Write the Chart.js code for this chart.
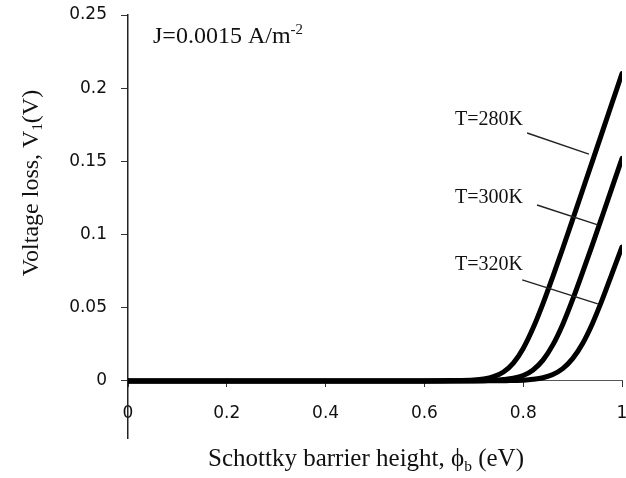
<!DOCTYPE html>
<html>
<head>
<meta charset="utf-8">
<script src="https://cdn.jsdelivr.net/npm/chart.js@4/dist/chart.umd.min.js"></script>
<style>
  body { margin: 0; background: #fff; }
  #chart { display: block; }
</style>
</head>
<body>
<canvas id="chart" width="626" height="478"></canvas>
<script>
// barrier height (eV)
const xValues = [0, 0.1, 0.2, 0.3, 0.4, 0.5, 0.6, 0.65, 0.7, 0.72, 0.74, 0.76, 0.78, 0.8, 0.82, 0.84, 0.86, 0.88, 0.9, 0.92, 0.94, 0.96, 0.98, 1];
// voltage loss (V) for each temperature
const loss280 = [0, 0, 0, 0, 0, 0, 0, 0.0002, 0.0006, 0.0013, 0.0029, 0.0061, 0.0122, 0.0222, 0.0361, 0.0528, 0.0713, 0.0905, 0.1102, 0.1301, 0.1500, 0.1700, 0.1900, 0.2100];
const loss300 = [0, 0, 0, 0, 0, 0, 0, 0, 0.0001, 0.0002, 0.0004, 0.0009, 0.0018, 0.0037, 0.0075, 0.0142, 0.0246, 0.0386, 0.0555, 0.0740, 0.0930, 0.1125, 0.1322, 0.1520];
const loss320 = [0, 0, 0, 0, 0, 0, 0, 0, 0, 0, 0.0001, 0.0001, 0.0003, 0.0005, 0.0011, 0.0022, 0.0044, 0.0084, 0.0152, 0.0254, 0.0391, 0.0555, 0.0735, 0.0915];

const seriesLabels = ['T=280K', 'T=300K', 'T=320K'];
const xTicks = [0, 0.2, 0.4, 0.6, 0.8, 1];
const xTickLabels = ['0', '0.2', '0.4', '0.6', '0.8', '1'];
const yTicks = [0, 0.05, 0.1, 0.15, 0.2, 0.25];
const yTickLabels = ['0', '0.05', '0.1', '0.15', '0.2', '0.25'];

// annotation anchors, in data units
const labelX = [0.662, 0.662, 0.662];
const labelY = [0.1749, 0.1216, 0.0758];
const leaderFromX = [0.808, 0.828, 0.798];
const leaderFromY = [0.1694, 0.1202, 0.0690];
const leaderToX = [0.933, 0.951, 0.951];
const leaderToY = [0.155, 0.1066, 0.0526];

const tickFont = { family: 'DejaVu Sans', size: 17 };
const serif = 'Liberation Serif';
const ink = '#111';

function curve(values, label) {
    return {
        label: label,
        data: xValues.map((x, i) => ({ x: x, y: values[i] })),
        borderColor: '#000',
        borderWidth: 5,
        pointRadius: 0,
        cubicInterpolationMode: 'monotone',
        borderCapStyle: 'round',
        fill: false
    };
}

function leader(i) {
    return {
        label: 'leader' + i,
        data: [{ x: leaderFromX[i], y: leaderFromY[i] }, { x: leaderToX[i], y: leaderToY[i] }],
        borderColor: '#222',
        borderWidth: 1.4,
        pointRadius: 0,
        fill: false
    };
}

// draws runs of text with sub/superscripts, returns total width
function drawRuns(ctx, runs, x, y, size, measureOnly) {
    let w = 0;
    runs.forEach(r => {
        const s = r.scale ? size * r.scale : size;
        ctx.font = s + 'px "' + serif + '"';
        if (!measureOnly) ctx.fillText(r.t, x + w, y + (r.dy || 0) * size);
        w += ctx.measureText(r.t).width;
    });
    return w;
}

const textPlugin = {
    id: 'texts',
    afterDraw(chart) {
        const ctx = chart.ctx;
        const xs = chart.scales.x, ys = chart.scales.y;
        ctx.save();
        ctx.fillStyle = ink;
        ctx.textBaseline = 'alphabetic';
        ctx.textAlign = 'left';

        // series labels
        seriesLabels.forEach((t, i) => {
            ctx.font = '20px "' + serif + '"';
            ctx.fillText(t, xs.getPixelForValue(labelX[i]), ys.getPixelForValue(labelY[i]));
        });

        // current density note
        drawRuns(ctx, [{ t: 'J=0.0015 A/m' }, { t: '-2', scale: 0.62, dy: -0.36 }], 153, 43, 24);

        // x title
        const xRuns = [{ t: 'Schottky barrier height, \u03D5' }, { t: 'b', scale: 0.62, dy: 0.18 }, { t: ' (eV)' }];
        const xw = drawRuns(ctx, xRuns, 0, 0, 25, true);
        drawRuns(ctx, xRuns, 366 - xw / 2, 466, 25);

        // y title
        const yRuns = [{ t: 'Voltage loss, V' }, { t: '1', scale: 0.62, dy: 0.15 }, { t: '(V)' }];
        const yw = drawRuns(ctx, yRuns, 0, 0, 24, true);
        ctx.translate(38, 183);
        ctx.rotate(-Math.PI / 2);
        drawRuns(ctx, yRuns, -yw / 2, 0, 24);
        ctx.restore();
    }
};

new Chart(document.getElementById('chart'), {
    type: 'line',
    data: {
        datasets: [
            leader(0), leader(1), leader(2),
            curve(loss280, seriesLabels[0]),
            curve(loss300, seriesLabels[1]),
            curve(loss320, seriesLabels[2])
        ]
    },
    options: {
        responsive: false,
        animation: false,
        layout: { padding: { left: 0, right: 4, top: 15, bottom: 40 } },
        plugins: {
            legend: { display: false },
            tooltip: { enabled: false }
        },
        scales: {
            x: {
                type: 'linear',
                min: 0,
                max: 1,
                position: { y: 0 },
                afterBuildTicks: s => { s.ticks = xTicks.map(v => ({ value: v })); },
                afterFit: s => { s.paddingLeft = 0; s.paddingRight = 0; s.paddingTop = 0; s.paddingBottom = 0; },
                ticks: {
                    callback: v => xTickLabels[xTicks.indexOf(v)],
                    font: tickFont,
                    color: ink,
                    padding: 16,
                    maxRotation: 0
                },
                grid: { drawOnChartArea: false, drawTicks: true, tickLength: 6, color: '#333' },
                border: { display: true, color: '#555', width: 1 }
            },
            y: {
                type: 'linear',
                min: -0.039,
                max: 0.25,
                afterBuildTicks: s => { s.ticks = yTicks.map(v => ({ value: v })); },
                afterFit: s => { s.width = 128; s.paddingTop = 0; s.paddingBottom = 0; },
                ticks: {
                    callback: v => yTickLabels[yTicks.indexOf(v)],
                    font: tickFont,
                    color: ink,
                    padding: 14
                },
                grid: { drawOnChartArea: false, drawTicks: true, tickLength: 7, color: '#333' },
                border: { display: true, color: '#222', width: 1.5 }
            }
        }
    },
    plugins: [textPlugin]
});
</script>
</body>
</html>
